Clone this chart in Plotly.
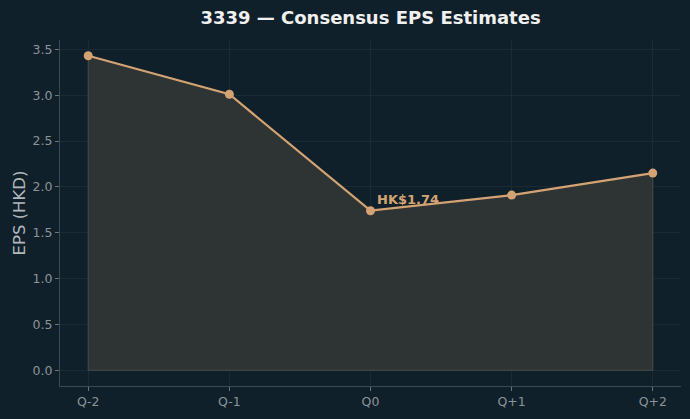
import plotly.graph_objects as go

quarters = ["Q-2", "Q-1", "Q0", "Q+1", "Q+2"]
eps = [3.43, 3.01, 1.74, 1.91, 2.15]
y_ticks = [0.0, 0.5, 1.0, 1.5, 2.0, 2.5, 3.0, 3.5]
highlight_idx = 2

BG = "#10202a"
LINE = "#d4a373"
FILL = "#2e3434"
EDGE = "#4a4c48"
GRID = "#1b2b33"
TICK = "#8a9499"

xs = list(range(len(quarters)))

fig = go.Figure()
# filled polygon under the line with edge
fig.add_trace(go.Scatter(
    x=[xs[0]] + xs + [xs[-1], xs[0]],
    y=[0] + eps + [0, 0],
    mode="lines", fill="toself", fillcolor=FILL,
    line=dict(color=EDGE, width=1), hoverinfo="skip", showlegend=False))
fig.add_trace(go.Scatter(
    x=xs, y=eps, mode="lines+markers",
    line=dict(color=LINE, width=2.2),
    marker=dict(color=LINE, size=9),
    showlegend=False))

fig.add_annotation(
    x=xs[highlight_idx], y=eps[highlight_idx],
    text=f"<b>HK${eps[highlight_idx]:.2f}</b>",
    showarrow=False, xanchor="left", yanchor="middle",
    xshift=4, yshift=11,
    font=dict(color=LINE, size=13, family="DejaVu Sans"))

fig.update_layout(
    width=690, height=419,
    margin=dict(l=60, r=9, t=40, b=33),
    paper_bgcolor=BG, plot_bgcolor=BG,
    font=dict(family="DejaVu Sans", color=TICK, size=12),
    title=dict(text="<b>3339 — Consensus EPS Estimates</b>",
               x=(60 + 681) / 2 / 690, xanchor="center",
               y=1 - 18 / 419, yanchor="middle",
               font=dict(size=18, color="#f0f0f0", family="DejaVu Sans")),
)
fig.update_xaxes(
    range=[-0.2, 4.2], tickmode="array", tickvals=xs, ticktext=quarters,
    showgrid=True, gridcolor=GRID, gridwidth=1, zeroline=False,
    showline=True, linecolor="#3c4a50", linewidth=1,
    ticks="outside", ticklen=4, tickcolor="#6a7478",
    tickfont=dict(size=12.5, color=TICK))
fig.update_yaxes(
    range=[-0.1715, 3.6015], tickmode="array", tickvals=y_ticks,
    ticktext=[f"{v:.1f}" for v in y_ticks],
    showgrid=True, gridcolor=GRID, gridwidth=1, zeroline=False,
    showline=True, linecolor="#3c4a50", linewidth=1,
    ticks="outside", ticklen=4, tickcolor="#6a7478",
    tickfont=dict(size=12.5, color=TICK),
    title=dict(text="EPS (HKD)", font=dict(size=16.5, color="#b0b8bc"), standoff=2))

fig.write_html("out.html")
